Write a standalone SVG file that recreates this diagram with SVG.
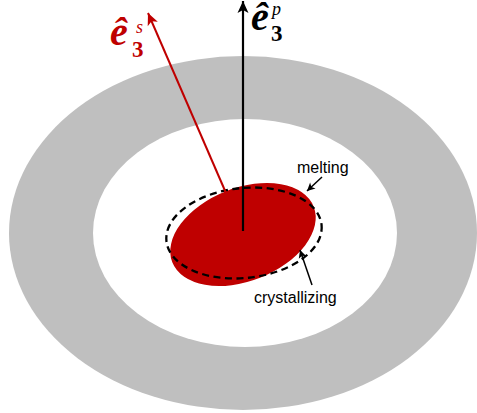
<svg xmlns="http://www.w3.org/2000/svg" width="477" height="413" viewBox="0 0 477 413">
<style>
.lbl{font-family:"Liberation Sans",Arial,sans-serif;font-size:16px;fill:#000}
.vec{font-family:"Liberation Serif","Times New Roman",serif;font-weight:bold;font-style:italic;font-size:40px}
.num{font-family:"Liberation Serif","Times New Roman",serif;font-style:normal;font-weight:bold;font-size:23px}
.sup{font-family:"Liberation Serif","Times New Roman",serif;font-style:italic;font-size:18px}
</style>
<defs>
<marker id="ahB" markerUnits="userSpaceOnUse" markerWidth="16" markerHeight="14" viewBox="-13 -7 16 14" refX="0" refY="0" orient="auto">
<path d="M0,0 L-12,-5.5 L-9,0 L-12,5.5 Z" fill="#000"/>
</marker>
<marker id="ahR" markerUnits="userSpaceOnUse" markerWidth="16" markerHeight="14" viewBox="-13 -7 16 14" refX="0" refY="0" orient="auto">
<path d="M0,0 L-12,-5.5 L-9,0 L-12,5.5 Z" fill="#BF0000"/>
</marker>
<marker id="ahS" markerUnits="userSpaceOnUse" markerWidth="10" markerHeight="10" viewBox="-9 -5 10 10" refX="0" refY="0" orient="auto">
<path d="M0,0 L-8,-4 L-6,0 L-8,4 Z" fill="#000"/>
</marker>
</defs>
<g id="ring">
<ellipse cx="243" cy="233" rx="234" ry="177" fill="#BFBFBF"/>
<ellipse cx="245" cy="233" rx="152" ry="114" fill="#FFFFFF"/>
</g>
<g id="grain">
<ellipse cx="243" cy="234.5" rx="76" ry="46.5" transform="rotate(-21.5 243 234.5)" fill="#BF0000"/>
</g>
<g id="boundary">
<ellipse cx="244" cy="233" rx="78" ry="45" transform="rotate(-6 244 233)" fill="none" stroke="#000" stroke-width="2.3" stroke-dasharray="7 4.5"/>
</g>
<g id="connectors">
<line x1="226" y1="193" x2="148" y2="13" stroke="#BF0000" stroke-width="2" marker-end="url(#ahR)"/>
<line x1="243" y1="231" x2="243" y2="1" stroke="#000" stroke-width="2.2" marker-end="url(#ahB)"/>
<line x1="322" y1="177" x2="307" y2="191" stroke="#000" stroke-width="1.5" marker-end="url(#ahS)"/>
<line x1="312" y1="285" x2="300" y2="250" stroke="#000" stroke-width="1.5" marker-end="url(#ahS)"/>
</g>
<g id="label-es" fill="#BF0000">
<text class="vec" x="110" y="45">ê</text>
<text class="num" x="132" y="57">3</text>
<text class="sup" x="136" y="33">s</text>
</g>
<g id="label-ep" fill="#000">
<text class="vec" x="251" y="30">ê</text>
<text class="num" x="271" y="41">3</text>
<text class="sup" x="272" y="15">p</text>
</g>
<g id="label-melting"><text class="lbl" x="297" y="173">melting</text></g>
<g id="label-crystallizing"><text class="lbl" x="254" y="303">crystallizing</text></g>
</svg>
